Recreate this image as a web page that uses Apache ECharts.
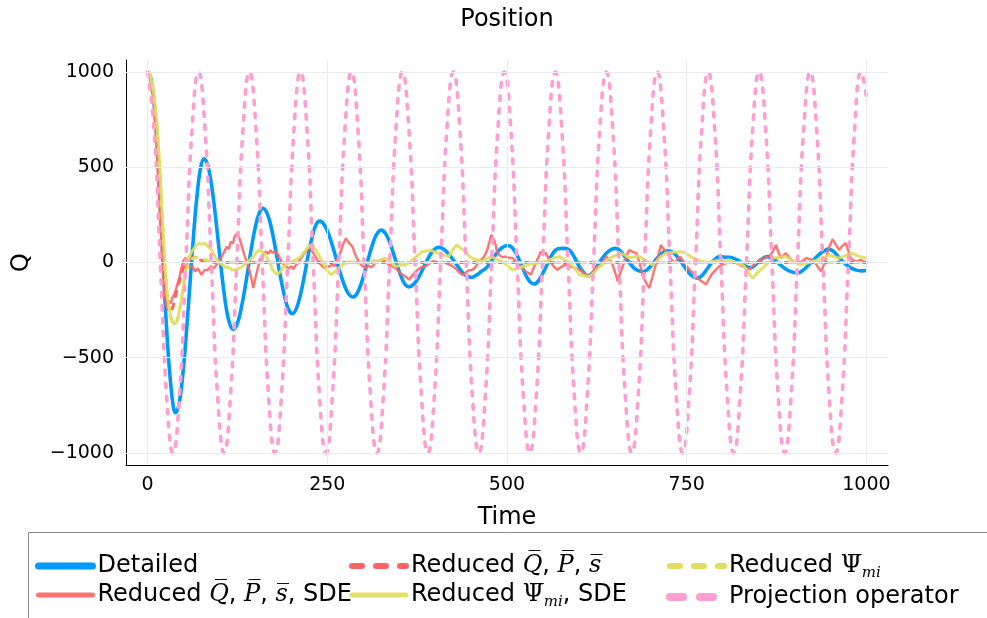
<!DOCTYPE html>
<html><head><meta charset="utf-8">
<script src="https://cdn.jsdelivr.net/npm/echarts@6/dist/echarts.min.js"></script>
<style>html,body{margin:0;padding:0;background:#fff}#c{width:987px;height:618px}</style>
</head><body><div id="c"></div>
<script>
const xTicks = [0, 250, 500, 750, 1000];
const yTicks = [-1000, -500, 0, 500, 1000];

const detailed = [[0,1000],[4,975],[8,880],[12,700],[16,440],[20,130],[24,-180],[28,-440],[32,-630],[36,-760],[39,-789],[44,-737],[49,-589],[54,-369],[59,-111],[64,145],[69,358],[74,502],[78.6,545],[84,506],[90,379],[96,191],[102,-19],[108,-203],[113,-306],[118.9,-351],[125,-318],[131,-227],[137,-100],[143,43],[149,170],[155,256],[160.6,284],[167,251],[173,168],[179,49],[185,-78],[191,-185],[196,-246],[201.4,-268],[207,-242],[213,-164],[219,-52],[225,67],[231,164],[235,203],[239.3,217],[246,197],[253,137],[260,52],[267,-42],[274,-121],[280,-167],[285.6,-181],[291,-165],[297,-113],[303,-37],[309,46],[315,118],[320,156],[325,170],[331,152],[337,104],[343,36],[349,-36],[355,-94],[359,-118],[363.4,-128],[370,-115],[377,-78],[384,-25],[391,27],[398,65],[405,80],[412,70],[420,40],[428,-1],[436,-43],[443,-69],[450,-78],[458,-65],[465,-45],[471,-29],[478,5],[485,45],[492,75],[500.9,89],[508,75],[515,30],[522,-30],[528,-80],[533,-105],[538,-113],[545,-90],[552,-40],[559,15],[565,55],[571,72],[578,74],[585,70],[592,40],[598,-5],[605,-45],[612.5,-69],[619,-55],[626,-15],[633,25],[640,55],[646,70],[651,74],[658,60],[665,25],[672,-10],[680,-38],[689,-48],[696,-35],[703,-5],[710,28],[717,52],[724,62],[731,52],[738,25],[745,-12],[752,-50],[759,-75],[765.7,-82],[772,-65],[779,-30],[786,5],[792,25],[796,31],[805,28],[814,24],[822,10],[830,-15],[839,-28],[846,-10],[853,15],[862,31],[870,20],[878,-5],[886,-30],[895,-48],[903.6,-55],[912,-40],[920,-10],[928,20],[936,48],[942,63],[947.6,70],[955,55],[962,25],[970,-5],[978,-28],[986,-40],[993,-44],[1000,-42]];

const reducedSDE = [[0,1000],[4,970],[8,870],[12,650],[16,330],[20,40],[23,-130],[26,-230],[29,-200],[32,-215],[35,-180],[38,-160],[41,-120],[44,-80],[47,-30],[50,10],[53,25],[56,-5],[59,-25],[62,-15],[66,-47],[70,-30],[75,-65],[79,-40],[84,-38],[88,-20],[92,-30],[96,-12],[100,14],[104,35],[107,60],[110,83],[113,70],[116,110],[119,100],[121,136],[125,153],[128,125],[130,101],[133,60],[137,14],[140,-20],[143,-60],[145,-95],[147,-134],[149,-100],[151,-65],[154,-20],[156,14],[159,30],[162,50],[165,57],[168,45],[171,65],[174,50],[177,60],[179,57],[182,40],[185,15],[188,-3],[191,-15],[194,-25],[197,-30],[200,-20],[203,-35],[206,-15],[209,-5],[212,15],[215,30],[218,49],[221,60],[225,83],[228,65],[232,40],[235,20],[239,-3],[242,-15],[246,-30],[249,-20],[253,-21],[257,-10],[260,-20],[263,10],[266,33],[269,60],[272,95],[276,127],[279,110],[282,95],[285,83],[288,50],[291,25],[295,-3],[298,-15],[301,-25],[304,-30],[307,-15],[310,-25],[313,-20],[316,-5],[319,0],[322,10],[327,14],[331,5],[335,-10],[340,-20],[345,-30],[349,-45],[353,-60],[357,-70],[361,-80],[364,-90],[367,-75],[370,-60],[373,-47],[377,-35],[381,-25],[387,-20],[392,-5],[396,5],[401,5],[406,-5],[410,5],[415,-3],[419,-10],[424,-20],[428,-30],[433,-50],[438,-65],[442,-55],[447,-40],[452,-38],[456,-25],[460,0],[464,15],[468,30],[472,60],[475,100],[478,145],[480,153],[483,110],[486,60],[489,40],[493,28],[498,31],[503,25],[508,23],[513,5],[517,-12],[521,-30],[526,-47],[530,-55],[533,-64],[537,-30],[540,-3],[544,30],[547,57],[551,50],[554,49],[558,20],[561,-3],[566,-25],[570,-38],[575,-25],[580,-12],[585,-18],[589,-21],[595,-30],[601,-38],[605,-50],[610,-64],[615,-73],[620,-45],[624,-21],[629,-21],[634,10],[638,31],[643,10],[647,-12],[651,-60],[654,-99],[657,-60],[661,-21],[665,25],[670,66],[675,55],[680,49],[685,-10],[689,-73],[694,-110],[698,-134],[702,-80],[705,-38],[710,30],[714,92],[718,70],[723,49],[728,20],[733,-3],[737,15],[740,31],[745,10],[750,-20],[754,-38],[760,-60],[765,-82],[771,-100],[777,-116],[781,-85],[786,-56],[790,-40],[795,-21],[800,-10],[805,-3],[810,0],[814,5],[820,-5],[828,-21],[833,-30],[837,-38],[841,-20],[846,-3],[851,10],[856,23],[861,28],[865,31],[870,60],[874,92],[878,50],[881,23],[885,40],[888,49],[893,25],[897,5],[902,0],[907,-3],[912,10],[916,23],[921,18],[925,14],[931,-15],[937,-47],[941,-10],[944,31],[948,80],[953,122],[958,90],[962,66],[966,85],[971,101],[975,60],[978,23],[982,10],[985,5],[989,10],[992,14],[996,5],[1000,-3]];

const reducedDet = [[0,1000],[4,970],[8,870],[12,650],[16,330],[20,40],[23,-120],[27,-225],[31,-262],[35,-235],[40,-160],[45,-90],[50,-30],[55,5],[60,22],[65,25],[70,18],[78,8],[90,2],[100,0],[200,0],[300,0],[400,0],[500,0],[600,0],[700,0],[800,0],[900,0],[1000,0]];

const psiSDE = [[0,1000],[4,980],[8,905],[12,770],[16,560],[19.4,327],[22,130],[25,-60],[28,-190],[32,-280],[35,-315],[38,-325],[42,-295],[46,-220],[50,-120],[54,-30],[58,30],[62,60],[66,80],[68,92],[72,100],[76,95],[80,101],[84,85],[89,66],[94,30],[100,-3],[105,-15],[110,-25],[114,-29],[118,-40],[123,-38],[128,-30],[135,-12],[141,10],[147,31],[151,50],[156,66],[160,55],[165,31],[170,0],[174,-38],[178,-55],[181,-64],[185,-45],[190,-21],[195,-5],[201,5],[207,15],[213,31],[218,55],[222,75],[226,90],[229,83],[233,70],[238,40],[243,5],[249,-38],[253,-55],[256,-64],[261,-45],[266,-29],[272,-10],[280,5],[287,0],[294,-3],[300,8],[307,-5],[314,12],[320,5],[325,15],[331,23],[338,5],[345,-21],[352,-15],[359,-12],[364,0],[368,14],[375,35],[382,57],[388,60],[393,66],[399,55],[405,49],[412,40],[419,31],[425,70],[430,92],[436,75],[442,57],[447,35],[451,23],[458,15],[465,5],[472,20],[479,31],[486,15],[493,5],[500,-15],[508,-40],[515,-30],[522,-21],[530,-10],[538,-5],[546,0],[554,5],[560,15],[566,25],[573,31],[580,15],[587,-3],[594,-30],[601,-64],[608,-70],[615,-73],[622,-50],[629,-21],[636,0],[643,23],[650,35],[657,49],[664,40],[670,25],[677,30],[684,31],[691,15],[697,0],[702,-12],[708,5],[714,30],[721,49],[728,52],[734,55],[740,57],[745,55],[749,49],[756,30],[763,14],[770,8],[778,0],[786,5],[794,10],[801,8],[809,14],[815,5],[822,-5],[828,-12],[834,-40],[838,-65],[842,-82],[847,-60],[851,-45],[856,-29],[862,-5],[870,23],[878,28],[888,31],[897,10],[907,-12],[915,-5],[925,5],[934,15],[941,25],[948,40],[955,30],[962,23],[970,35],[976,45],[981,49],[988,35],[994,28],[1000,23]];

const psiDet = [[0,1000],[4,980],[8,905],[12,770],[16,560],[19.4,327],[22,130],[25,-60],[28,-190],[32,-280],[35,-315],[38,-325],[42,-295],[46,-220],[50,-120],[54,-40],[58,0],[62,20],[68,28],[75,20],[85,8],[100,2],[120,0],[200,0],[300,0],[400,0],[500,0],[600,0],[700,0],[800,0],[900,0],[1000,0]];

const projection = [[0,1000],[8.9,707],[17.7,0],[26.6,-707],[35.4,-1000],[44.3,-707],[53.2,0],[62,707],[70.9,1000],[79.8,707],[88.6,0],[97.5,-707],[106.4,-1000],[115.2,-707],[124.1,0],[132.9,707],[141.8,1000],[150.7,707],[159.5,0],[168.4,-707],[177.3,-1000],[186.1,-707],[195,0],[203.8,707],[212.7,1000],[221.6,707],[230.4,0],[239.3,-707],[248.2,-1000],[257,-707],[265.9,0],[274.7,707],[283.6,1000],[292.5,707],[301.3,0],[310.2,-707],[319.1,-1000],[327.9,-707],[336.8,0],[345.6,707],[354.5,1000],[363.4,707],[372.2,0],[381.1,-707],[390,-1000],[398.8,-707],[407.7,0],[416.5,707],[425.4,1000],[434.3,707],[443.1,0],[452,-707],[460.9,-1000],[469.7,-707],[478.6,0],[487.4,707],[496.3,1000],[505.2,707],[514,0],[522.9,-707],[531.8,-1000],[540.6,-707],[549.5,0],[558.3,707],[567.2,1000],[576.1,707],[584.9,0],[593.8,-707],[602.7,-1000],[611.5,-707],[620.4,0],[629.2,707],[638.1,1000],[647,707],[655.8,0],[664.7,-707],[673.6,-1000],[682.4,-707],[691.3,0],[700.1,707],[709,1000],[717.9,707],[726.7,0],[735.6,-707],[744.5,-1000],[753.3,-707],[762.2,0],[771,707],[779.9,1000],[788.8,707],[797.6,0],[806.5,-707],[815.4,-1000],[824.2,-707],[833.1,0],[841.9,707],[850.8,1000],[859.7,707],[868.5,0],[877.4,-707],[886.3,-1000],[895.1,-707],[904,0],[912.8,707],[921.7,1000],[930.6,707],[939.4,0],[948.3,-707],[957.2,-1000],[966,-707],[974.9,0],[983.7,707],[992.6,1000],[1000,870]];

const names = {
  det: 'Detailed',
  rsde: 'Reduced Q, P, s, SDE',
  rdet: 'Reduced Q, P, s',
  psde: 'Reduced Psi SDE',
  pdet: 'Reduced Psi',
  proj: 'Projection operator'
};
const labelText = {};
labelText[names.det] = 'Detailed';
labelText[names.rsde] = 'Reduced {m|Q\u0305}, {m|P\u0305}, {m|s\u0305}, SDE';
labelText[names.rdet] = 'Reduced {m|Q\u0305}, {m|P\u0305}, {m|s\u0305}';
labelText[names.psde] = 'Reduced {g|\u03A8\u0305}{sub|mi}, SDE';
labelText[names.pdet] = 'Reduced {g|\u03A8\u0305}{sub|mi}';
labelText[names.proj] = 'Projection operator';

const C = {blue:'#009AFA', red:'#FF6464', yellow:'#E0DE5C', pink:'#FF9ED0'};
const FONT = 'DejaVu Sans';

const chart = echarts.init(document.getElementById('c'), null, {renderer:'canvas'});
const minus = v => String(v).replace('-', '\u2212');

const rich = {
  m: {fontFamily:'DejaVu Serif', fontStyle:'italic', fontSize:24, color:'#000'},
  g: {fontFamily:'DejaVu Serif', fontSize:24, color:'#000'},
  sub: {fontFamily:'DejaVu Serif', fontStyle:'italic', fontSize:15, color:'#000', padding:[15,0,0,0]}
};
const hideSym = {opacity:0};
function mkLegend(left, items) {
  return {
    orient:'vertical', left:left, top:553, padding:0, itemGap:3, itemWidth:54, itemHeight:14,
    selectedMode:false,
    textStyle:{fontFamily:FONT, fontSize:24, color:'#000', lineHeight:26, rich:rich},
    formatter: n => labelText[n],
    data: items
  };
}

chart.setOption({
  animation:false,
  textStyle:{fontFamily:FONT},
  grid:{left:126, right:99, top:60, bottom:153, containLabel:false},
  xAxis:{type:'value', min:-30, max:1030,
    name:'Time', nameLocation:'middle', nameGap:41,
    nameTextStyle:{fontFamily:FONT, fontSize:24, color:'#000'},
    axisLine:{show:true, onZero:false, lineStyle:{color:'#000', width:1}},
    axisTick:{show:true, inside:true, length:4, customValues:xTicks, lineStyle:{color:'#000'}},
    axisLabel:{customValues:xTicks, fontFamily:FONT, fontSize:19, color:'#000', margin:11, formatter:minus},
    splitLine:{show:false}},
  yAxis:{type:'value', min:-1063, max:1063,
    name:'Q', nameLocation:'middle', nameGap:92, nameRotate:90,
    nameTextStyle:{fontFamily:FONT, fontSize:24, color:'#000'},
    axisLine:{show:true, onZero:false, lineStyle:{color:'#000', width:1}},
    axisTick:{show:true, inside:true, length:4, customValues:yTicks, lineStyle:{color:'#000'}},
    axisLabel:{customValues:yTicks, fontFamily:FONT, fontSize:19, color:'#000', margin:12, formatter:minus},
    splitLine:{show:false}},
  legend:[
    mkLegend(35, [
      {name:names.det, itemStyle:hideSym, lineStyle:{width:7, cap:'round'}},
      {name:names.rsde, itemStyle:hideSym, lineStyle:{width:5, cap:'round'}}]),
    mkLegend(349, [
      {name:names.rdet, itemStyle:hideSym, lineStyle:{width:6, type:[10,14], cap:'round'}},
      {name:names.psde, itemStyle:hideSym, lineStyle:{width:5, cap:'round'}}]),
    mkLegend(666, [
      {name:names.pdet, itemStyle:hideSym, lineStyle:{width:6, type:[10,14], cap:'round'}},
      {name:names.proj, itemStyle:hideSym, lineStyle:{width:8, type:[13,17], cap:'round'}}])
  ],
  graphic:[
    {type:'text', x:507, y:20, style:{text:'Position', font:'24px "DejaVu Sans"', fill:'#000', align:'center', verticalAlign:'middle'}},
    {type:'rect', shape:{x:28.5, y:532.5, width:1000, height:100}, style:{fill:'none', stroke:'#888', lineWidth:1}, silent:true}
  ],
  series:[
    {type:'line', name:'grid', data:[], silent:true, z:0,
      markLine:{silent:true, symbol:['none','none'], label:{show:false},
        lineStyle:{color:'#ececec', width:1, type:'solid'},
        data: xTicks.map(v=>({xAxis:v})).concat(yTicks.map(v=>({yAxis:v})))}},
    {type:'line', name:names.det, data:detailed, smooth:0.4, symbol:'none',
      lineStyle:{color:C.blue, width:3.6}, itemStyle:{color:C.blue}},
    {type:'line', name:names.rsde, data:reducedSDE, symbol:'none',
      lineStyle:{color:C.red, width:2.4, opacity:0.9}, itemStyle:{color:C.red}},
    {type:'line', name:names.rdet, data:reducedDet, smooth:0.4, symbol:'none',
      lineStyle:{color:C.red, width:3, type:[5,8], cap:'round'}, itemStyle:{color:C.red}},
    {type:'line', name:names.psde, data:psiSDE, symbol:'none',
      lineStyle:{color:C.yellow, width:3, opacity:0.9}, itemStyle:{color:C.yellow}},
    {type:'line', name:names.pdet, data:psiDet, smooth:0.4, symbol:'none',
      lineStyle:{color:C.yellow, width:3, type:[5,8], cap:'round'}, itemStyle:{color:C.yellow}},
    {type:'line', name:names.proj, data:projection, smooth:0.5, symbol:'none',
      lineStyle:{color:C.pink, width:3.6, type:[4.5,8.5], cap:'round'}, itemStyle:{color:C.pink}}
  ]
});
</script></body></html>
